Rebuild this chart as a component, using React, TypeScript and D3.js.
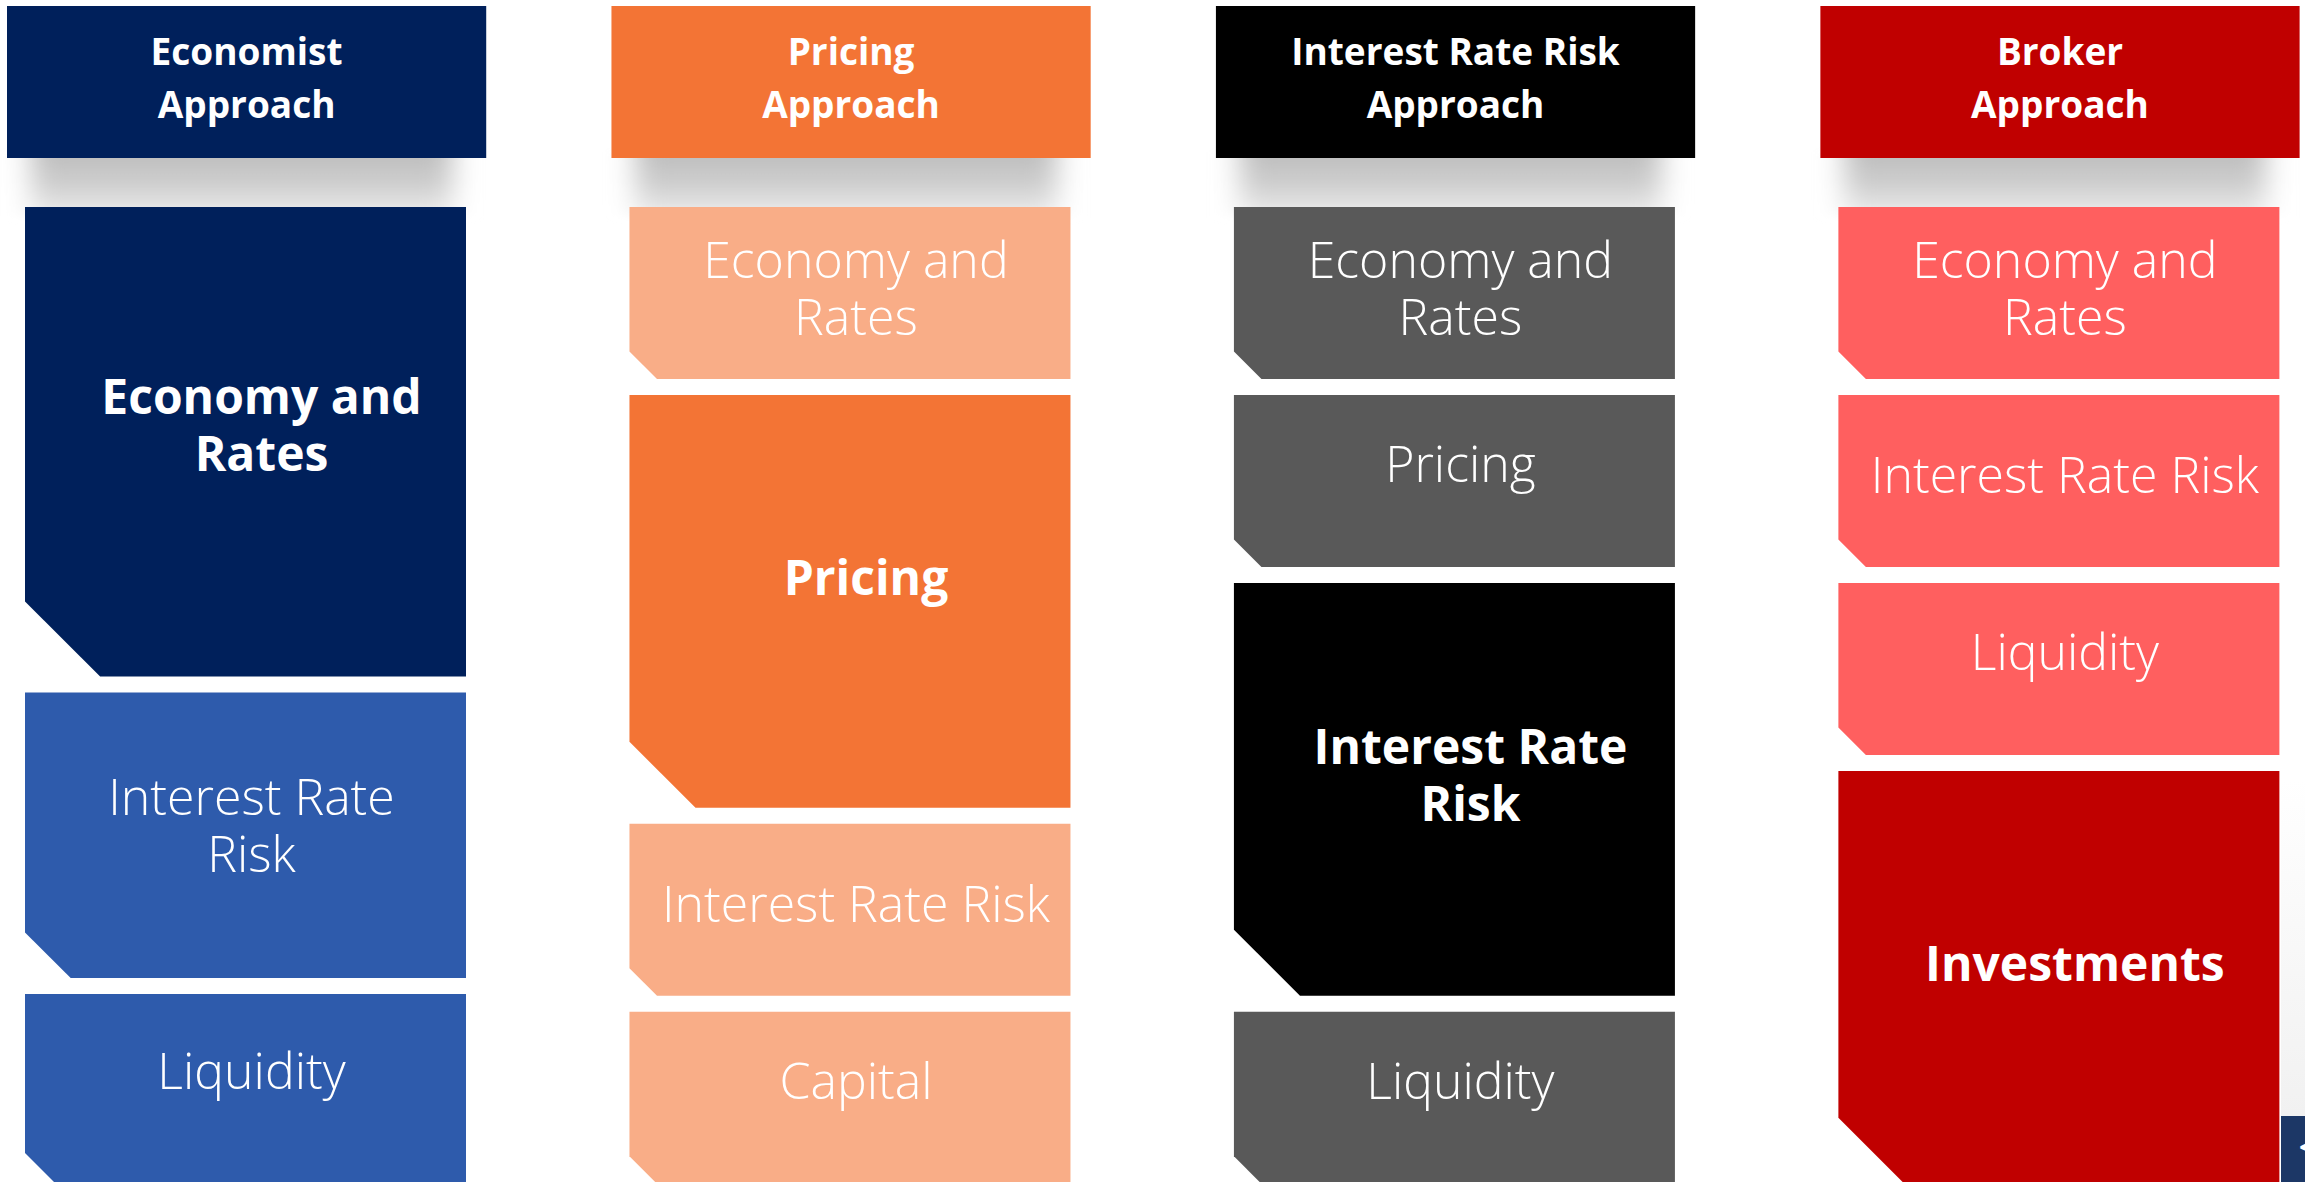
import React from 'react';
import * as d3 from 'd3';

// ─── Data ─────────────────────────────────────────────────────────────────────
const approaches = ['Economist Approach', 'Pricing Approach', 'Interest Rate Risk Approach', 'Broker Approach'];
const headerLines = [
  ['Economist', 'Approach'],
  ['Pricing', 'Approach'],
  ['Interest Rate Risk', 'Approach'],
  ['Broker', 'Approach'],
];
const strongColors = ['#00205B', '#F37435', '#000000', '#C00000'];
const softColors = ['#2E5BAC', '#F9AD87', '#595959', '#FF5F5F'];

// segment labels (one array of lines per block), top to bottom
const economistBlocks = [['Economy and', 'Rates'], ['Interest Rate', 'Risk'], ['Liquidity']];
const pricingBlocks = [['Economy and', 'Rates'], ['Pricing'], ['Interest Rate Risk'], ['Capital']];
const rateRiskBlocks = [['Economy and', 'Rates'], ['Pricing'], ['Interest Rate', 'Risk'], ['Liquidity']];
const brokerBlocks = [['Economy and', 'Rates'], ['Interest Rate Risk'], ['Liquidity'], ['Investments']];

// relative block heights (1 = a standard block)
const economistSizes = [2.73, 1.66, 1.1];
const pricingSizes = [1, 2.4, 1, 1];
const rateRiskSizes = [1, 1, 2.4, 1];
const brokerSizes = [1, 1, 1, 2.4];

// which block is the focus of each approach
const focusIndex = [0, 1, 2, 3];

const blocks = [economistBlocks, pricingBlocks, rateRiskBlocks, brokerBlocks];
const sizes = [economistSizes, pricingSizes, rateRiskSizes, brokerSizes];

const W = 2305;
const H = 1182;
const FONT = "'Open Sans', 'Noto Sans', sans-serif";

export default function App() {
  const x = d3.scaleBand<string>()
    .domain(approaches)
    .range([7, 2299.6])
    .paddingInner(0.2072)
    .paddingOuter(0)
    .align(0);
  const hw = x.bandwidth();
  const unit = d3.scaleLinear().domain([0, 1]).range([0, 172]);

  const headerTop = 6;
  const headerBottom = 158;
  const stackTop = 207;
  const gap = 16;
  const boxInset = 18;
  const boxW = 441;

  const line = d3.line();

  return (
    <div style={{ position: 'fixed', left: 0, top: 0, width: W, height: H, overflow: 'hidden', background: '#fff' }}>
      <svg width={W} height={H} style={{ display: 'block' }} fontFamily={FONT}>
        <defs>
          <filter id="shadowBlur" x="-20%" y="-50%" width="140%" height="200%">
            <feGaussianBlur stdDeviation="14 3" />
          </filter>
          <linearGradient id="shadowFill" x1="0" y1="0" x2="0" y2="1">
            <stop offset="0" stopColor="#bdbdbd" />
            <stop offset="0.45" stopColor="#cdcdcd" />
            <stop offset="0.8" stopColor="#e2e2e2" />
            <stop offset="1" stopColor="#f6f6f6" />
          </linearGradient>
          <linearGradient id="edgeFade" x1="0" y1="0" x2="0" y2="1">
            <stop offset="0" stopColor="#ffffff" />
            <stop offset="1" stopColor="#f1f1f1" />
          </linearGradient>
        </defs>

        {/* right edge page chrome */}
        <rect x={2281} y={780} width={24} height={336} fill="url(#edgeFade)" />
        <rect x={2281} y={1116} width={24} height={66} fill="#1C3766" />
        <text x={2299} y={1158} fontSize={30} fontWeight={700} fill="#fff">&lt;</text>

        {approaches.map((name, i) => {
          const hx = x(name) as number;
          const bx = hx + boxInset;
          let cursor = stackTop;
          const tops = sizes[i].map(s => {
            const t = cursor;
            cursor += unit(s) + gap;
            return t;
          });
          return (
            <g key={name}>
              {/* header shadow */}
              <rect x={hx + 0.05 * hw} y={152} width={0.88 * hw} height={66} fill="url(#shadowFill)" filter="url(#shadowBlur)" />
              {/* header */}
              <rect x={hx} y={headerTop} width={hw} height={headerBottom - headerTop} fill={strongColors[i]} />
              <text textAnchor="middle" fill="#fff" fontWeight={700} fontSize={37}>
                {headerLines[i].map((l, k) => (
                  <tspan key={k} x={hx + hw / 2} y={64.5 + k * 53}>{l}</tspan>
                ))}
              </text>

              {blocks[i].map((lines, j) => {
                const h = unit(sizes[i][j]);
                const top = tops[j];
                const c = 0.16 * h;
                const pts: [number, number][] = [
                  [bx, top], [bx + boxW, top], [bx + boxW, top + h], [bx + c, top + h], [bx, top + h - c],
                ];
                const strong = j === focusIndex[i];
                const fs = strong ? 48 : 50;
                const lh = 57;
                const cx = bx + boxW / 2 + (strong ? 16 : 6);
                // single-line labels are centred on their ink box, so labels without descenders sit lower
                const descends = /[gjpqy]/.test(lines.join(''));
                const shift = lines.length > 1
                  ? 2
                  : (strong ? -7 : -10) + (descends ? 0 : (strong ? 10 : 11));
                const cy = top + 0.46 * h + shift;
                const firstBase = cy - ((lines.length - 1) * lh) / 2 + 0.36 * fs;
                return (
                  <g key={j}>
                    <path d={line(pts) + 'Z'} fill={strong ? strongColors[i] : softColors[i]} />
                    <text textAnchor="middle" fill="#fff" fontSize={fs} fontWeight={strong ? 700 : 300}>
                      {lines.map((l, k) => (
                        <tspan key={k} x={cx} y={firstBase + k * lh}>{l}</tspan>
                      ))}
                    </text>
                  </g>
                );
              })}
            </g>
          );
        })}
      </svg>
    </div>
  );
}
